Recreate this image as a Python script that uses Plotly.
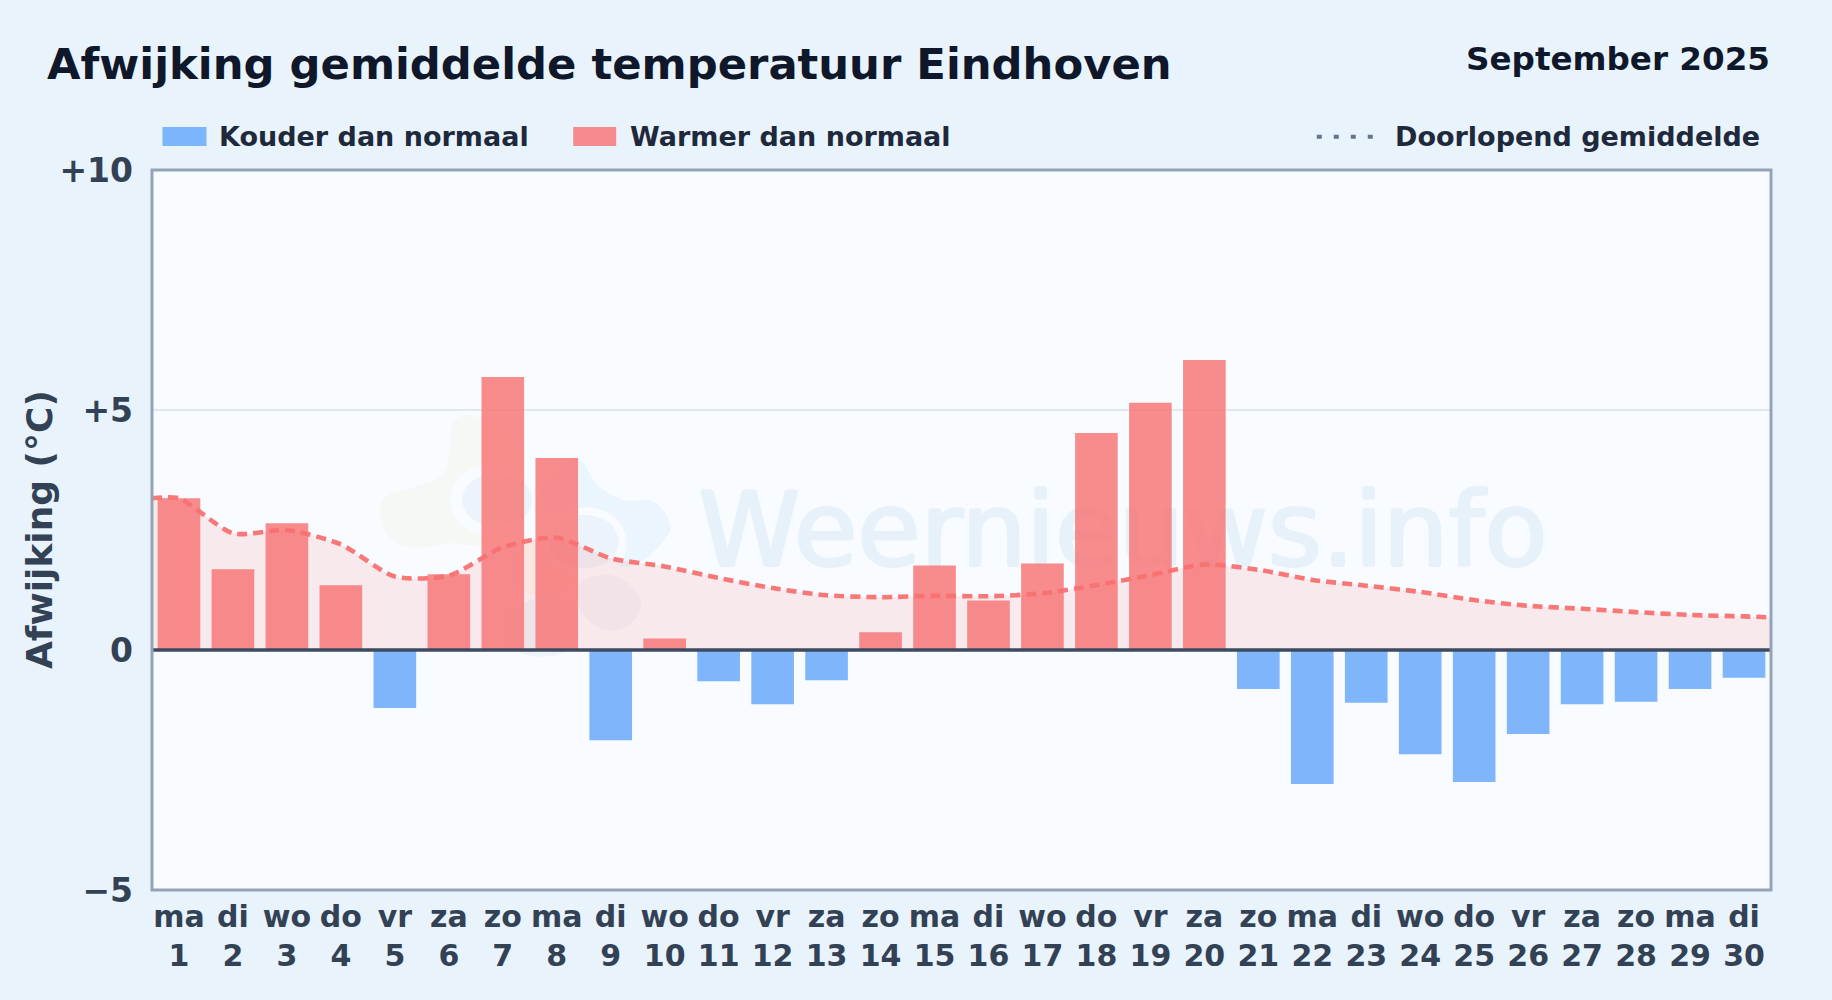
import plotly.graph_objects as go

# ---- data ----
weekdays = ["ma","di","wo","do","vr","za","zo","ma","di","wo","do","vr","za","zo","ma","di","wo","do","vr","za","zo","ma","di","wo","do","vr","za","zo","ma","di"]
days = list(range(1, 31))
deviation = [3.16,1.68,2.64,1.35,-1.21,1.58,5.69,4.00,-1.88,0.24,-0.65,-1.13,-0.63,0.37,1.76,1.03,1.80,4.52,5.15,6.04,-0.81,-2.79,-1.10,-2.17,-2.75,-1.75,-1.13,-1.08,-0.81,-0.58]
running_mean = [3.16,2.43,2.50,2.20,1.53,1.55,2.14,2.34,1.91,1.74,1.50,1.29,1.14,1.10,1.13,1.12,1.18,1.35,1.56,1.78,1.67,1.46,1.34,1.21,1.04,0.92,0.86,0.79,0.73,0.70]
mean_left_edge = 3.16
mean_right_edge = 0.68
ytick_vals = [-5, 0, 5, 10]
ytick_text = ["−5", "0", "+5", "+10"]
title_text = "Afwijking gemiddelde temperatuur Eindhoven"
period_text = "September 2025"
legend_cold = "Kouder dan normaal"
legend_warm = "Warmer dan normaal"
legend_mean = "Doorlopend gemiddelde"
axis_title = "Afwijking (°C)"
watermark = "Weernieuws.info"

W, H = 1832, 1000
L, R, T, B = 151.5, 1771.5, 170, 890
FONT = "DejaVu Sans"
RED = "rgba(248,113,113,0.8)"
BLUE = "rgba(96,165,250,0.8)"
WM = "#e7f1f9"

def px(x): return (x - L) / (R - L)
def py(y): return (B - y) / (B - T)

positions = list(range(30))
colors = [RED if v >= 0 else BLUE for v in deviation]
mean_x = [-0.5] + positions + [29.5]
mean_y = [mean_left_edge] + running_mean + [mean_right_edge]

fig = go.Figure()
fig.add_trace(go.Scatter(x=[17.49], y=[2.28], mode="text", text=[watermark], textposition="middle center",
                         textfont=dict(family=FONT, size=103, color=WM,
                                       shadow=f"1.5px 0 0 {WM}, -1.5px 0 0 {WM}, 0 1px 0 {WM}, 0 -1px 0 {WM}"),
                         hoverinfo="skip", showlegend=False, cliponaxis=False))
fig.add_trace(go.Scatter(x=mean_x, y=mean_y, mode="lines", line=dict(width=0, shape="spline", smoothing=0.7, color="rgba(0,0,0,0)"),
                         fill="tozeroy", fillcolor="rgba(248,113,113,0.13)", hoverinfo="skip", showlegend=False))
fig.add_trace(go.Bar(x=positions, y=deviation, marker=dict(color=colors, line=dict(width=0)), width=0.79, yaxis="y2", showlegend=False))
fig.add_trace(go.Scatter(x=mean_x, y=mean_y, mode="lines", yaxis="y3", showlegend=False,
                         line=dict(color="rgba(248,113,113,0.95)", width=4.6, shape="spline", smoothing=0.7, dash="10px,6px")))

def smooth(pts):
    n = len(pts)
    d = f"M{px(pts[0][0])},{py(pts[0][1])}"
    for i in range(n):
        p0, p1, p2, p3 = pts[(i-1) % n], pts[i], pts[(i+1) % n], pts[(i+2) % n]
        c1 = (p1[0] + (p2[0]-p0[0])/6, p1[1] + (p2[1]-p0[1])/6)
        c2 = (p2[0] - (p3[0]-p1[0])/6, p2[1] - (p3[1]-p1[1])/6)
        d += f" C{px(c1[0])},{py(c1[1])} {px(c2[0])},{py(c2[1])} {px(p2[0])},{py(p2[1])}"
    return d + " Z"

def z(x, y):
    return (370 + x/3, 395 + y/3)

def blob(points, color):
    return dict(type="path", xref="paper", yref="paper", layer="below", line=dict(width=0), fillcolor=color,
                path=smooth([z(*p) for p in points]))

def ell(cx, cy, rx, ry, color):
    k = 0.72
    return blob([(cx-rx,cy),(cx-rx*k,cy-ry*k),(cx,cy-ry),(cx+rx*k,cy-ry*k),(cx+rx,cy),(cx+rx*k,cy+ry*k),(cx,cy+ry),(cx-rx*k,cy+ry*k)], color)

BG_PLOT = "#f8fbff"
shapes = [
    blob([(300,60),(245,90),(238,165),(215,240),(130,278),(50,300),(28,360),(60,430),(130,460),(230,445),(300,450),(400,440),(470,300),(420,130)], "#f4f9f5"),
    blob([(600,190),(640,205),(680,270),(760,315),(850,320),(900,390),(870,450),(790,510),(700,500),(560,420),(510,280)], "#ebf5fd"),
    blob([(480,440),(590,450),(600,560),(480,600),(430,520)], "#fbf7f1"),
    blob([(470,620),(560,610),(620,660),(600,760),(510,785),(430,760),(400,680)], "#eff4fa"),
    ell(365,315,125,105,"#f8fbff"),
    ell(380,315,105,78,"#edf3fb"),
    ell(645,445,125,108,"#f8fbff"),
    ell(640,440,105,80,"#edf3fb"),
    blob([(640,555),(720,540),(790,580),(812,640),(770,695),(700,705),(640,660),(620,600)], "#f0f4fa"),
    dict(type="line", xref="paper", yref="y", x0=0, x1=1, y0=0, y1=0, layer="above", line=dict(color="#3d4a5f", width=3.6)),
    dict(type="rect", xref="paper", yref="paper", x0=0, x1=1, y0=0, y1=1, layer="above", line=dict(color="#94a3b8", width=3)),
    dict(type="rect", xref="paper", yref="paper", x0=px(162), x1=px(206), y0=py(127), y1=py(146), line=dict(width=0), fillcolor=BLUE, layer="above"),
    dict(type="rect", xref="paper", yref="paper", x0=px(573), x1=px(616), y0=py(127), y1=py(146), line=dict(width=0), fillcolor=RED, layer="above"),
    dict(type="line", xref="paper", yref="paper", x0=px(1317), x1=px(1375), y0=py(136.7), y1=py(136.7), layer="above",
         line=dict(color="#64748b", width=4, dash="5px,12px")),
]

def label(x, y, text, size, color, anchor="left", angle=0):
    return dict(x=px(x), y=py(y), xref="paper", yref="paper", text=text, showarrow=False, xanchor=anchor, yanchor="middle",
                textangle=angle, font=dict(family=FONT, size=size, color=color), borderpad=0, xshift=0)

annotations = [
    label(45.5, 64, f"<b>{title_text}</b>", 43.3, "#0f172a"),
    label(1771, 59, f"<b>{period_text}</b>", 32.6, "#0f172a", "right"),
    label(218, 137, f"<b>{legend_cold}</b>", 27, "#1e293b"),
    label(629, 137, f"<b>{legend_warm}</b>", 27, "#1e293b"),
    label(1394, 137, f"<b>{legend_mean}</b>", 27, "#1e293b"),
    label(38.5, 530, f"<b>{axis_title}</b>", 36, "#334155", "center", -90),
]

fig.update_layout(
    width=W, height=H, autosize=False,
    margin=dict(l=L, r=W-R, t=T, b=H-B, pad=0),
    paper_bgcolor="#e8f3fc", plot_bgcolor=BG_PLOT,
    showlegend=False, bargap=0.2, shapes=shapes, annotations=annotations,
    font=dict(family=FONT, color="#334155"),
    xaxis=dict(range=[-0.5, 29.5], tickmode="array", tickvals=positions,
               ticktext=[f"<b>{w}</b><br><b>{d}</b>" for w, d in zip(weekdays, days)],
               tickfont=dict(family=FONT, size=30, color="#334155"), ticks="", showgrid=False, zeroline=False, showline=False,
               ticklabelstandoff=6, tickangle=0),
    yaxis=dict(range=[-5, 10], tickmode="array", tickvals=ytick_vals, ticktext=[f"<b>{t}</b>" for t in ytick_text],
               tickfont=dict(family=FONT, size=33, color="#334155"), ticks="", showgrid=True, gridcolor="#e2e8f0", gridwidth=2,
               zeroline=False, showline=False, ticklabelstandoff=18),
    yaxis2=dict(range=[-5, 10], overlaying="y", visible=False),
    yaxis3=dict(range=[-5, 10], overlaying="y", visible=False),
)

fig.write_html("out.html", post_script="document.body.style.margin='0';", config=dict(displayModeBar=False))
